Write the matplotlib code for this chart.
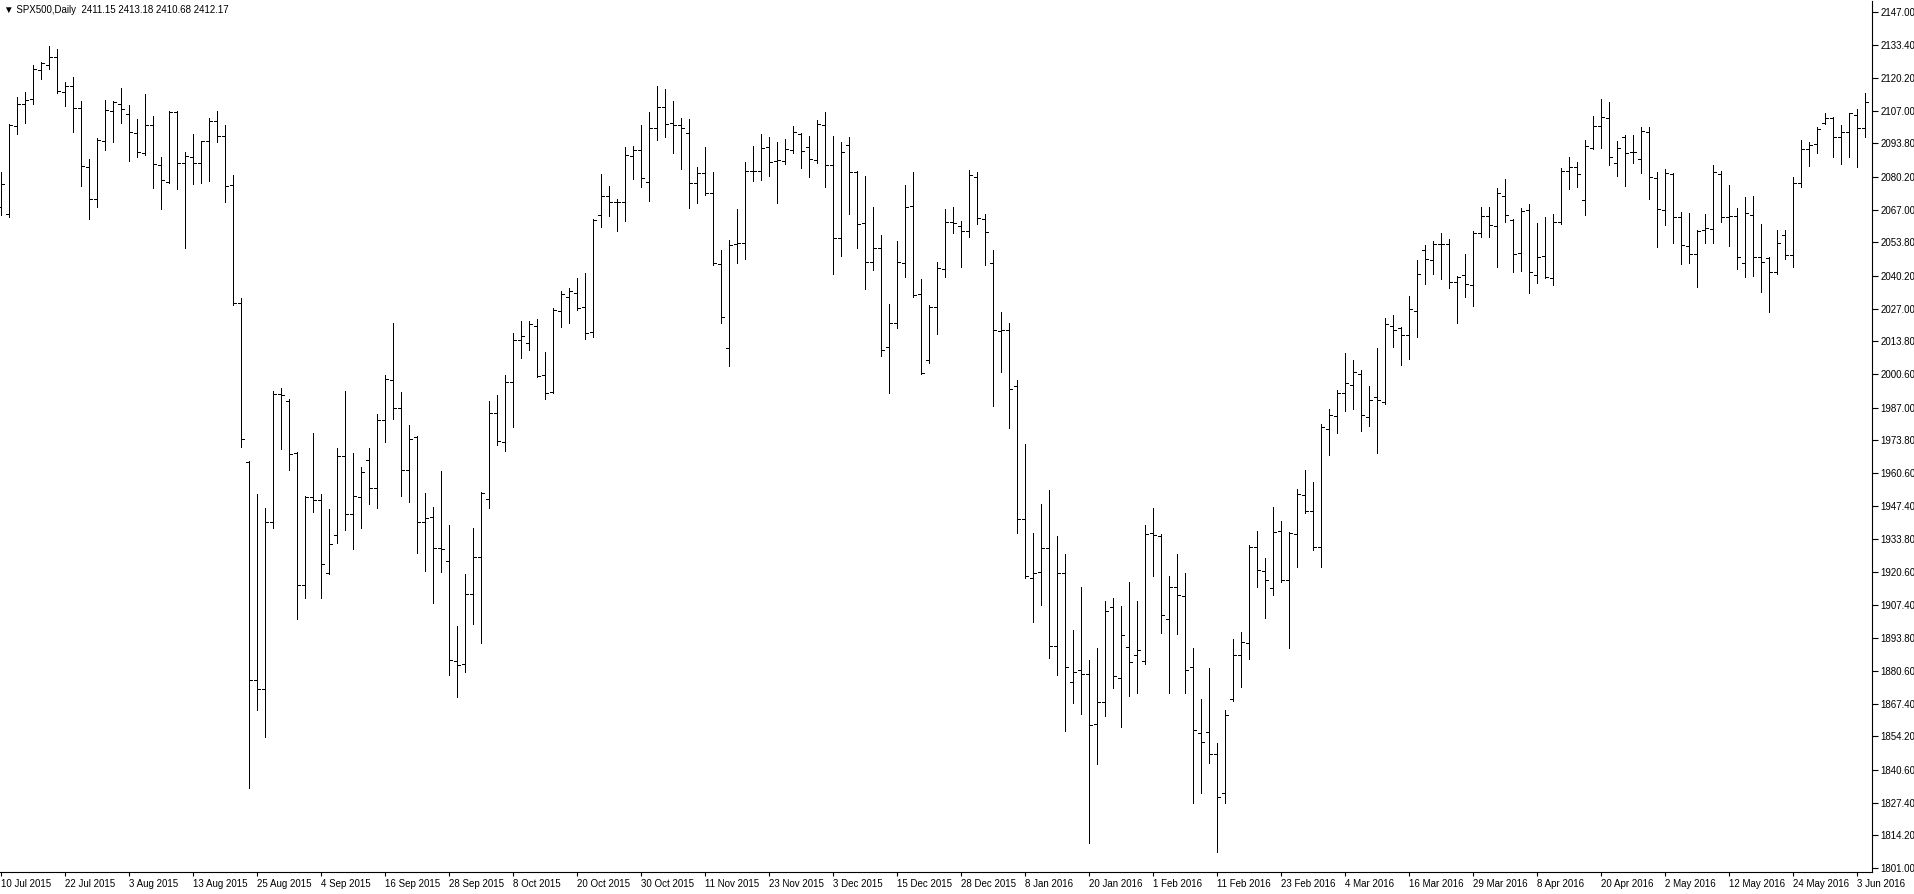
import numpy as np
import pandas as pd
import matplotlib
matplotlib.use('Agg')
import matplotlib.pyplot as plt

# daily OHLC (10 Jul 2015 .. 6 Jun 2016)
opens = [2068.0, 2065.3, 2100.8, 2109.7, 2111.6, 2123.4, 2125.5, 2128.6, 2114.7, 2117.0,
         2108.0, 2084.4, 2071.2, 2094.8, 2106.9, 2109.7, 2105.5, 2097.9, 2089.8, 2101.2,
         2084.9, 2078.1, 2106.5, 2085.7, 2088.1, 2085.7, 2094.6, 2102.7, 2096.8, 2076.8,
         2029.1, 1965.1, 1876.9, 1873.2, 1941.0, 1992.5, 1989.6, 1968.8, 1915.5, 1950.8,
         1949.7, 1920.2, 1935.6, 1967.5, 1943.9, 1951.0, 1965.9, 1954.4, 1982.0, 1998.2,
         1986.7, 1961.8, 1975.0, 1941.0, 1942.7, 1930.2, 1925.1, 1884.8, 1883.3, 1911.7,
         1926.5, 1950.0, 1984.7, 1973.1, 1997.4, 2014.4, 2013.2, 2020.1, 2000.0, 1993.2,
         2026.0, 2031.9, 2033.4, 2027.6, 2017.5, 2065.0, 2072.4, 2070.1, 2070.1, 2088.7,
         2091.0, 2078.1, 2099.9, 2108.4, 2101.9, 2101.2, 2098.1, 2077.6, 2081.7, 2073.6,
         2045.0, 2011.0, 2053.1, 2053.4, 2082.6, 2082.6, 2092.2, 2086.8, 2086.8, 2091.1,
         2097.6, 2092.2, 2087.1, 2101.2, 2085.1, 2055.4, 2093.1, 2082.4, 2061.5, 2046.0,
         2051.4, 2011.7, 2021.3, 2045.6, 2068.5, 2032.9, 2006.3, 2027.5, 2042.9, 2062.2,
         2060.4, 2058.4, 2080.1, 2063.1, 2045.3, 2017.9, 2018.3, 1995.6, 1942.0, 1918.2,
         1920.6, 1930.5, 1890.7, 1920.0, 1876.1, 1881.1, 1879.2, 1859.1, 1868.2, 1906.3,
         1877.9, 1890.2, 1887.1, 1884.7, 1936.5, 1935.3, 1901.5, 1914.4, 1910.9, 1882.1,
         1855.4, 1855.8, 1847.1, 1831.2, 1869.2, 1887.1, 1891.8, 1930.6, 1921.2, 1914.0,
         1937.2, 1917.4, 1936.0, 1951.7, 1945.4, 1930.8, 1978.3, 1983.6, 1992.8, 1996.2,
         2000.6, 1983.1, 1991.2, 1989.4, 2020.0, 2019.1, 2016.4, 2026.2, 2050.7, 2046.7,
         2053.1, 2053.1, 2037.6, 2040.6, 2036.6, 2057.5, 2064.4, 2060.5, 2072.5, 2062.8,
         2049.4, 2066.9, 2040.6, 2048.3, 2039.3, 2062.2, 2082.8, 2084.1, 2070.9, 2091.8,
         2100.8, 2103.9, 2085.7, 2096.2, 2090.2, 2087.3, 2098.3, 2079.7, 2066.9, 2081.4,
         2063.9, 2052.3, 2049.1, 2058.8, 2059.1, 2081.4, 2064.2, 2064.4, 2045.3, 2064.9,
         2047.8, 2047.3, 2041.9, 2056.8, 2048.7, 2077.9, 2091.4, 2093.5, 2101.9, 2103.9,
         2096.2, 2098.5, 2105.3, 2099.9]
highs = [2082.4, 2101.5, 2112.7, 2114.5, 2125.5, 2126.5, 2133.1, 2131.9, 2118.7, 2120.5,
         2110.9, 2087.5, 2095.8, 2111.3, 2111.0, 2116.0, 2109.3, 2103.5, 2113.7, 2104.9,
         2088.3, 2106.7, 2107.0, 2090.3, 2097.4, 2094.8, 2104.2, 2107.0, 2101.4, 2081.0,
         2031.5, 1965.6, 1952.1, 1946.5, 1993.8, 1995.1, 1990.5, 1969.2, 1951.5, 1976.6,
         1952.1, 1946.2, 1970.6, 1993.9, 1968.5, 1963.2, 1970.6, 1984.5, 2000.2, 2021.4,
         1993.5, 1980.0, 1975.6, 1952.7, 1947.0, 1961.5, 1939.6, 1898.8, 1919.8, 1938.3,
         1953.1, 1989.8, 1992.2, 2000.2, 2017.1, 2022.2, 2022.2, 2022.9, 2009.3, 2027.3,
         2034.1, 2035.3, 2039.2, 2041.5, 2063.2, 2081.4, 2076.7, 2071.2, 2092.5, 2092.8,
         2101.0, 2106.4, 2116.9, 2115.7, 2110.9, 2103.9, 2103.5, 2084.1, 2092.2, 2082.4,
         2050.7, 2054.7, 2067.1, 2086.1, 2092.7, 2097.6, 2096.2, 2094.5, 2095.4, 2100.8,
         2098.1, 2096.8, 2103.2, 2106.3, 2096.8, 2094.5, 2096.2, 2082.6, 2080.6, 2068.2,
         2056.8, 2028.9, 2054.5, 2077.0, 2082.4, 2038.9, 2028.5, 2046.0, 2067.1, 2068.2,
         2062.6, 2083.0, 2082.4, 2065.3, 2050.7, 2025.6, 2021.2, 1998.2, 1972.5, 1936.5,
         1948.0, 1953.9, 1935.2, 1927.9, 1897.1, 1914.5, 1885.2, 1889.8, 1909.0, 1910.3,
         1906.7, 1916.4, 1909.0, 1939.6, 1946.6, 1936.0, 1919.0, 1927.9, 1920.1, 1889.8,
         1869.2, 1881.7, 1851.4, 1864.9, 1893.4, 1896.2, 1931.5, 1937.2, 1926.1, 1947.0,
         1941.2, 1936.9, 1954.2, 1962.0, 1957.0, 1980.4, 1986.3, 1994.2, 2009.2, 2006.3,
         2002.2, 1995.8, 2011.0, 2023.1, 2024.5, 2019.5, 2032.1, 2046.7, 2052.7, 2054.5,
         2057.5, 2055.0, 2040.0, 2049.1, 2058.5, 2068.0, 2068.2, 2075.6, 2079.4, 2063.1,
         2067.8, 2069.3, 2061.5, 2064.2, 2065.3, 2083.7, 2088.2, 2086.4, 2095.2, 2104.9,
         2111.7, 2110.6, 2094.8, 2097.2, 2097.2, 2100.3, 2100.3, 2082.4, 2083.4, 2082.0,
         2065.9, 2065.5, 2058.8, 2065.1, 2085.1, 2082.8, 2076.8, 2067.5, 2072.3, 2072.5,
         2061.2, 2047.8, 2058.8, 2058.8, 2080.1, 2095.2, 2094.2, 2100.3, 2105.9, 2104.6,
         2101.1, 2106.2, 2107.6, 2114.0]
lows = [2065.0, 2063.9, 2097.4, 2101.9, 2109.6, 2119.7, 2123.7, 2114.0, 2109.0, 2098.3,
        2076.7, 2063.4, 2068.2, 2090.9, 2094.5, 2102.2, 2086.8, 2088.4, 2089.0, 2075.6,
        2067.3, 2077.6, 2075.5, 2051.4, 2077.3, 2077.9, 2078.6, 2094.4, 2069.9, 2028.5,
        1971.0, 1833.4, 1864.9, 1854.1, 1938.2, 1970.3, 1961.7, 1901.6, 1910.3, 1944.7,
        1910.3, 1919.6, 1932.2, 1937.6, 1929.8, 1938.5, 1948.1, 1946.3, 1973.3, 1982.3,
        1951.5, 1949.0, 1928.2, 1921.2, 1908.0, 1920.8, 1879.0, 1870.3, 1880.4, 1899.6,
        1892.1, 1946.3, 1971.8, 1969.6, 1979.3, 2007.2, 2010.3, 1999.2, 1990.4, 1992.8,
        2019.5, 2021.4, 2026.3, 2014.9, 2015.5, 2060.0, 2064.4, 2058.2, 2062.4, 2079.4,
        2076.3, 2070.6, 2095.3, 2096.4, 2090.0, 2083.4, 2067.5, 2069.6, 2072.9, 2044.6,
        2021.1, 2003.8, 2045.6, 2046.9, 2078.7, 2079.0, 2080.6, 2069.8, 2085.3, 2090.0,
        2083.9, 2080.3, 2085.7, 2076.3, 2041.0, 2048.3, 2065.3, 2051.4, 2034.8, 2042.6,
        2007.9, 1993.1, 2019.1, 2039.9, 2031.9, 2000.6, 2005.2, 2016.8, 2039.9, 2057.4,
        2043.7, 2055.8, 2061.2, 2044.6, 1987.7, 2001.5, 1978.6, 1936.5, 1918.2, 1900.4,
        1907.2, 1885.8, 1878.8, 1856.5, 1867.5, 1863.3, 1811.1, 1843.2, 1862.4, 1873.7,
        1857.8, 1870.6, 1871.9, 1883.4, 1919.1, 1895.8, 1871.6, 1895.6, 1871.6, 1827.4,
        1831.5, 1843.3, 1807.6, 1827.2, 1868.5, 1874.0, 1885.3, 1914.7, 1901.9, 1911.3,
        1916.7, 1889.8, 1922.8, 1944.3, 1929.5, 1922.5, 1967.9, 1976.6, 1985.8, 1986.3,
        1977.7, 1979.6, 1968.6, 1988.5, 2011.7, 2004.3, 2006.5, 2015.7, 2036.8, 2041.0,
        2038.9, 2035.2, 2021.4, 2031.6, 2028.2, 2055.8, 2055.8, 2043.7, 2062.2, 2041.9,
        2042.4, 2033.5, 2037.5, 2039.3, 2036.6, 2061.2, 2075.2, 2076.0, 2064.9, 2091.5,
        2092.1, 2085.1, 2080.6, 2076.6, 2085.7, 2081.9, 2071.2, 2051.8, 2060.8, 2053.7,
        2044.9, 2045.3, 2035.9, 2053.7, 2053.4, 2062.2, 2052.5, 2042.9, 2039.7, 2040.2,
        2033.9, 2025.5, 2041.0, 2046.9, 2044.0, 2076.3, 2084.7, 2090.0, 2101.6, 2088.4,
        2085.5, 2088.4, 2084.4, 2096.2]
closes = [2077.2, 2101.0, 2109.7, 2111.3, 2123.7, 2126.1, 2128.6, 2115.0, 2117.1, 2108.0,
          2084.8, 2071.2, 2095.2, 2107.3, 2110.4, 2107.5, 2098.3, 2090.4, 2101.2, 2085.3,
          2078.9, 2106.5, 2085.7, 2088.5, 2085.7, 2094.6, 2102.7, 2096.8, 2076.4, 2029.1,
          1974.4, 1876.9, 1873.2, 1941.0, 1992.5, 1992.0, 1968.2, 1915.5, 1950.8, 1949.7,
          1923.9, 1932.1, 1967.5, 1943.9, 1951.3, 1961.2, 1954.4, 1982.0, 1998.5, 1986.7,
          1961.8, 1974.2, 1941.0, 1942.3, 1930.2, 1929.8, 1885.1, 1883.0, 1911.7, 1926.5,
          1952.7, 1984.7, 1973.7, 1997.4, 2014.4, 2015.9, 2020.9, 1999.7, 1992.8, 2026.3,
          2033.0, 2034.1, 2027.3, 2017.1, 2062.8, 2072.7, 2070.1, 2070.1, 2089.1, 2091.0,
          2079.8, 2099.9, 2108.4, 2101.8, 2101.2, 2099.9, 2077.6, 2081.7, 2073.6, 2045.3,
          2023.5, 2052.7, 2053.4, 2082.6, 2082.6, 2091.8, 2086.4, 2087.1, 2091.4, 2098.5,
          2090.7, 2087.3, 2101.5, 2085.1, 2055.4, 2090.4, 2082.4, 2061.2, 2046.0, 2051.4,
          2010.3, 2021.1, 2046.0, 2068.2, 2032.5, 2000.9, 2027.8, 2043.3, 2062.2, 2061.8,
          2058.5, 2081.0, 2063.5, 2058.1, 2018.4, 2018.3, 1994.5, 1942.0, 1919.1, 1920.0,
          1930.5, 1890.7, 1920.0, 1882.1, 1880.3, 1879.2, 1858.7, 1868.2, 1904.8, 1878.5,
          1895.3, 1884.3, 1888.9, 1935.9, 1935.6, 1903.3, 1914.7, 1911.3, 1881.0, 1856.8,
          1851.8, 1847.1, 1829.6, 1862.8, 1887.1, 1892.5, 1930.9, 1921.4, 1917.4, 1936.9,
          1917.4, 1936.2, 1952.1, 1945.4, 1930.6, 1979.1, 1984.1, 1992.8, 1996.8, 2001.3,
          1984.1, 1990.1, 1990.1, 2020.8, 2018.4, 2016.4, 2026.7, 2041.0, 2047.0, 2053.1,
          2053.1, 2037.9, 2039.7, 2037.0, 2057.7, 2064.4, 2060.8, 2073.6, 2064.9, 2049.1,
          2066.5, 2041.9, 2047.8, 2039.7, 2062.2, 2082.8, 2084.1, 2081.3, 2092.7, 2100.8,
          2104.3, 2088.2, 2091.8, 2089.8, 2090.2, 2098.8, 2080.1, 2067.3, 2081.7, 2063.9,
          2052.7, 2049.1, 2058.5, 2059.5, 2082.4, 2063.9, 2064.4, 2047.8, 2065.8, 2047.8,
          2046.0, 2041.9, 2053.4, 2048.7, 2077.9, 2091.4, 2093.1, 2099.5, 2104.2, 2096.5,
          2098.5, 2105.9, 2099.9, 2110.4]

holidays = ['2015-12-25', '2016-01-01', '2016-03-25']
dates = pd.bdate_range('2015-07-10', '2016-06-06')
dates = dates[~dates.isin(pd.to_datetime(holidays))]

date_labels = ['10 Jul 2015', '22 Jul 2015', '3 Aug 2015', '13 Aug 2015', '25 Aug 2015',
               '4 Sep 2015', '16 Sep 2015', '28 Sep 2015', '8 Oct 2015', '20 Oct 2015',
               '30 Oct 2015', '11 Nov 2015', '23 Nov 2015', '3 Dec 2015', '15 Dec 2015',
               '28 Dec 2015', '8 Jan 2016', '20 Jan 2016', '1 Feb 2016', '11 Feb 2016',
               '23 Feb 2016', '4 Mar 2016', '16 Mar 2016', '29 Mar 2016', '8 Apr 2016',
               '20 Apr 2016', '2 May 2016', '12 May 2016', '24 May 2016', '3 Jun 2016']
price_ticks = [2147.00, 2133.40, 2120.20, 2107.00, 2093.80, 2080.20, 2067.00, 2053.80,
               2040.20, 2027.00, 2013.80, 2000.60, 1987.00, 1973.80, 1960.60, 1947.40,
               1933.80, 1920.60, 1907.40, 1893.80, 1880.60, 1867.40, 1854.20, 1840.60,
               1827.40, 1814.20, 1801.00]
header = '\u25bc SPX500,Daily  2411.15 2413.18 2410.68 2412.17'

plt.rcParams['font.family'] = ['Liberation Sans', 'DejaVu Sans']

W, H = 1915, 894
fig = plt.figure(figsize=(W / 100, H / 100), dpi=100)
ax = fig.add_axes([0, (H - 872) / H, 1872 / W, 871 / H])

x = np.arange(len(closes))
tick = 0.375
ax.vlines(x, lows, highs, color='black', lw=0.72, antialiased=False)
ax.hlines(opens, x - tick, x, color='black', lw=0.72, antialiased=False)
ax.hlines(closes, x, x + tick, color='black', lw=0.72, antialiased=False)

ax.set_xlim(-0.125, 233.875)
ax.set_ylim(1799.4, 2151.3)

for s in ['top', 'left']:
    ax.spines[s].set_visible(False)
for s in ['right', 'bottom']:
    ax.spines[s].set_color('black')
    ax.spines[s].set_linewidth(0.8)

ax.yaxis.tick_right()
ax.set_yticks(price_ticks)
ax.set_yticklabels(['%.2f' % p for p in price_ticks])
ax.tick_params(axis='y', direction='out', length=4, width=0.8, pad=2, labelsize=7)

pos = [dates.get_loc(pd.to_datetime(d, format='%d %b %Y')) for d in date_labels]
ax.set_xticks(pos)
ax.set_xticklabels(date_labels, ha='left')
ax.tick_params(axis='x', direction='out', length=3, width=0.8, pad=2, labelsize=7)

fig.text(4 / W, 1 - 10 / H, header, fontsize=7, va='center', ha='left')

fig.savefig('out.png', dpi=100, facecolor='white')
